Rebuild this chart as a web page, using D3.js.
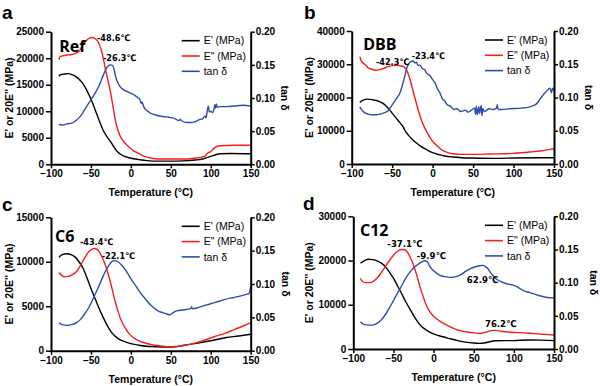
<!DOCTYPE html>
<html>
<head>
<meta charset="utf-8">
<script src="https://cdn.jsdelivr.net/npm/d3@7"></script>
<style>
  body { margin: 0; background: #fff; }
  svg { display: block; }
  .tick text { font-family: "Liberation Sans", Arial, sans-serif; font-weight: bold; font-size: 10px; fill: #000; }
  .axis path.domain { stroke: #000; stroke-width: 2px; }
  .axis .tick line { stroke: #000; stroke-width: 1.5px; }
</style>
</head>
<body>
<svg id="chart" width="600" height="386"></svg>
<script>
// ---- data (temperature °C, value) ----

// a : Ref
const refStorage = [[-90,16600],[-88,16900],[-84,17000],[-78,17100],[-72,16800],[-66,16200],[-60,15200],[-55,13900],[-50,12300],[-45,10400],[-40,8400],[-35,6500],[-30,5200],[-25,4200],[-21,3200],[-17,2400],[-12,1800],[-6,1400],[0,1150],[10,900],[20,700],[35,600],[50,600],[65,650],[80,800],[90,1000],[96,1300],[100,1500],[106,1800],[112,2000],[125,2050],[150,2000]];
const refLoss = [[-90,19700],[-89,20200],[-87,20400],[-80,20600],[-74,20700],[-68,21000],[-64,21500],[-60,22500],[-56,23300],[-52,23800],[-49,23900],[-45,23700],[-42,23300],[-38,22000],[-35,20300],[-32,18000],[-29,16000],[-26,14000],[-23,11500],[-20,8700],[-17,6800],[-13,5200],[-9,4300],[-4,3500],[1,2800],[8,2200],[17,1500],[28,1100],[40,1000],[55,1000],[70,1000],[82,1200],[90,1400],[94,1700],[96,2100],[100,2400],[104,3000],[108,3400],[112,3500],[130,3600],[150,3600]];
const refTan = [[-90,0.059],[-88,0.060],[-85,0.059],[-80,0.061],[-74,0.062],[-70,0.065],[-65,0.070],[-60,0.078],[-55,0.088],[-50,0.097],[-45,0.107],[-40,0.118],[-35,0.133],[-31,0.144],[-28,0.149],[-25,0.150],[-23,0.149],[-21,0.143],[-19,0.132],[-17,0.125],[-14,0.118],[-10,0.113],[-5,0.110],[0,0.107],[5,0.104],[9,0.100],[11,0.098],[13,0.092],[14,0.094],[16,0.087],[20,0.081],[25,0.077],[32,0.074],[40,0.072],[48,0.071],[55,0.069],[60,0.066],[62,0.068],[63,0.066],[70,0.063],[75,0.063],[80,0.064],[85,0.067],[90,0.069],[93,0.073],[94,0.070],[95,0.075],[96,0.084],[97,0.088],[98,0.079],[100,0.080],[102,0.078],[104,0.083],[105,0.090],[106,0.085],[107,0.091],[108,0.086],[112,0.087],[120,0.087],[130,0.088],[140,0.089],[150,0.088]];

// b : DBB
const dbbStorage = [[-90,18500],[-86,19200],[-80,19500],[-74,19300],[-67,18900],[-60,18000],[-55,16800],[-50,15300],[-45,13800],[-40,12300],[-36,11000],[-34,10000],[-30,8700],[-25,7400],[-20,6300],[-14,5200],[-8,4400],[0,3400],[8,2800],[15,2400],[25,2100],[36,1900],[50,1800],[77,1700],[100,1800],[150,1900]];
const dbbLoss = [[-90,32300],[-89,31500],[-87,30600],[-84,30000],[-80,29000],[-75,28500],[-70,28200],[-65,28400],[-60,28800],[-55,29300],[-50,29600],[-45,29700],[-40,29500],[-36,29300],[-33,28600],[-30,27000],[-28,25500],[-25,22800],[-22,20000],[-19,17300],[-16,14800],[-13,12600],[-9,10500],[-5,8700],[0,6800],[5,5600],[11,4300],[18,3500],[25,3100],[35,2900],[50,2900],[70,3000],[100,3200],[120,3600],[135,4000],[145,4400],[150,4600]];
const dbbTan = [[-90,0.086],[-88,0.082],[-85,0.078],[-80,0.075],[-75,0.074],[-70,0.074],[-65,0.075],[-60,0.077],[-55,0.080],[-50,0.089],[-45,0.098],[-40,0.108],[-37,0.120],[-34,0.134],[-32,0.144],[-30,0.150],[-27,0.154],[-24,0.155],[-22,0.152],[-20,0.153],[-18,0.148],[-16,0.149],[-13,0.144],[-10,0.142],[-7,0.136],[-4,0.134],[0,0.127],[3,0.122],[6,0.113],[9,0.107],[12,0.098],[15,0.095],[18,0.089],[22,0.087],[26,0.082],[30,0.083],[35,0.079],[40,0.081],[44,0.078],[48,0.081],[52,0.084],[53,0.075],[54,0.087],[55,0.074],[57,0.086],[58,0.076],[60,0.088],[61,0.073],[62,0.083],[64,0.079],[70,0.083],[75,0.082],[79,0.084],[80,0.089],[81,0.082],[85,0.082],[95,0.083],[110,0.084],[120,0.086],[128,0.090],[133,0.098],[138,0.106],[142,0.111],[145,0.114],[147,0.107],[148,0.114],[150,0.110]];

// c : C6
const c6Storage = [[-90,10500],[-86,10800],[-80,10900],[-75,10800],[-70,10550],[-65,10000],[-60,9300],[-55,8200],[-50,7000],[-45,5900],[-40,4800],[-35,3800],[-30,2900],[-25,2150],[-20,1650],[-15,1300],[-7,1000],[0,800],[10,620],[20,500],[30,450],[45,400],[55,430],[67,620],[80,800],[93,1000],[105,1200],[118,1450],[135,1650],[150,1850]];
const c6Loss = [[-90,8800],[-87,8500],[-83,8300],[-78,8350],[-73,8550],[-68,8900],[-63,9600],[-58,10400],[-53,11100],[-49,11400],[-45,11500],[-41,11300],[-37,10700],[-33,9900],[-29,8800],[-25,7500],[-21,6000],[-17,4700],[-13,3600],[-8,2700],[-3,2000],[2,1550],[8,1200],[15,950],[25,700],[35,550],[49,450],[60,500],[70,650],[80,850],[93,1200],[105,1600],[118,1950],[130,2400],[140,2750],[150,3150]];
const c6Tan = [[-90,0.042],[-86,0.039],[-80,0.038],[-74,0.039],[-68,0.042],[-63,0.047],[-58,0.055],[-53,0.064],[-49,0.0735],[-45,0.084],[-40,0.097],[-35,0.111],[-31,0.121],[-27,0.129],[-23,0.1345],[-20,0.135],[-16,0.133],[-12,0.129],[-8,0.123],[-4,0.116],[0,0.108],[5,0.099],[10,0.090],[15,0.082],[20,0.075],[25,0.068],[30,0.063],[35,0.059],[40,0.057],[45,0.055],[49,0.054],[53,0.057],[58,0.060],[65,0.061],[75,0.063],[76,0.066],[77,0.063],[85,0.065],[93,0.068],[105,0.072],[118,0.077],[130,0.080],[143,0.084],[148,0.086],[149,0.090],[150,0.096]];

// d : C12
const c12Storage = [[-91,19400],[-86,20000],[-81,20300],[-76,20200],[-71,20000],[-65,19400],[-60,18600],[-55,17400],[-50,16000],[-45,14300],[-40,12600],[-35,10800],[-30,9200],[-25,7600],[-20,6200],[-15,5100],[-10,4400],[-5,3800],[0,3400],[7,3000],[14,2650],[22,2250],[30,1900],[40,1550],[50,1350],[57,1280],[64,1400],[70,1650],[77,1850],[90,1900],[100,1900],[118,2050],[135,2000],[150,1900]];
const c12Loss = [[-91,16000],[-89,15300],[-85,15000],[-80,15000],[-75,15300],[-70,16100],[-65,17300],[-60,18700],[-55,20000],[-50,21200],[-45,22100],[-40,22500],[-37,22500],[-33,22000],[-29,20700],[-25,19000],[-21,16700],[-17,14100],[-13,11900],[-9,9900],[-5,8500],[0,7400],[7,6400],[14,5600],[22,4900],[30,4300],[40,3900],[50,3650],[58,3500],[65,3800],[72,4150],[77,4200],[84,4000],[92,3850],[105,3700],[120,3550],[135,3350],[150,3150]];
const c12Tan = [[-91,0.041],[-87,0.037],[-82,0.036],[-76,0.036],[-70,0.039],[-65,0.044],[-60,0.052],[-55,0.062],[-50,0.073],[-45,0.084],[-40,0.095],[-35,0.106],[-30,0.115],[-25,0.122],[-20,0.127],[-15,0.131],[-11,0.133],[-8,0.132],[-5,0.125],[-1,0.119],[3,0.115],[8,0.111],[14,0.109],[22,0.108],[28,0.109],[34,0.112],[40,0.117],[46,0.121],[52,0.124],[57,0.1255],[61,0.126],[64,0.125],[67,0.122],[71,0.115],[75,0.109],[80,0.104],[85,0.101],[92,0.098],[100,0.096],[105,0.093],[112,0.088],[120,0.085],[130,0.081],[140,0.078],[150,0.077]];

// ticks and labels
const tempTicks = [-100, -50, 0, 50, 100, 150];
const tanTicks = [0, 0.05, 0.10, 0.15, 0.20];
const legendLabels = ["E' (MPa)", "E\" (MPa)", "tan \u03b4"];

const refNotes = [["-48.6\u2103", -42.4, 23250], ["-26.3\u2103", -34.9, 19570]];
const dbbNotes = [["-42.3\u2103", -70, 29770], ["-23.4\u2103", -25.9, 31580]];
const c6Notes  = [["-43.4\u2103", -63.7, 11940], ["-22.1\u2103", -36.5, 10310]];
const c12Notes = [["-37.1\u2103", -57.6, 23060], ["-9.9\u2103", -21, 20350], ["62.9\u2103", 41.3, 14810], ["76.2\u2103", 64, 4970]];

// ---- layout ----
const panels = [
  { letter: "a", name: "Ref", left: 51,    right: 250.7, top: 31.7,  bottom: 164.3, yMax: 25000, yTicks: [0,5000,10000,15000,20000,25000],
    series: [refStorage, refLoss, refTan], notes: refNotes, noteSize: 9, nameAt: [-89.6, 21100], letterXY: [2, 19], yTitleX: 9, tanTitleX: 285 },
  { letter: "b", name: "DBB", left: 351.7, right: 554,   top: 31,    bottom: 164,   yMax: 40000, yTicks: [0,10000,20000,30000,40000],
    series: [dbbStorage, dbbLoss, dbbTan], notes: dbbNotes, noteSize: 9, nameAt: [-85.7, 34290], letterXY: [304, 18.5], yTitleX: 309.5, tanTitleX: 589 },
  { letter: "c", name: "C6",  left: 51,    right: 250.7, top: 217.3, bottom: 350.7, yMax: 15000, yTicks: [0,5000,10000,15000],
    series: [c6Storage, c6Loss, c6Tan], notes: c6Notes, noteSize: 9, nameAt: [-95, 12220], letterXY: [2, 211], yTitleX: 9, tanTitleX: 286 },
  { letter: "d", name: "C12", left: 353.3, right: 554,   top: 216.3, bottom: 349,   yMax: 30000, yTicks: [0,10000,20000,30000],
    series: [c12Storage, c12Loss, c12Tan], notes: c12Notes, noteSize: 9.5, nameAt: [-91.7, 25610], letterXY: [303, 210], yTitleX: 309.5, tanTitleX: 594 }
];

const colors = ["#000000", "#f51d1d", "#2c4ea6"];
const sansBold = "'Liberation Sans', Arial, sans-serif";

const svg = d3.select("#chart");
svg.append("rect").attr("width", 600).attr("height", 386).attr("fill", "#fff");

panels.forEach(p => {
  const x = d3.scaleLinear().domain([-100, 150]).range([p.left, p.right]);
  const y = d3.scaleLinear().domain([0, p.yMax]).range([p.bottom, p.top]);
  const yTan = d3.scaleLinear().domain([0, 0.2]).range([p.bottom, p.top]);
  const g = svg.append("g");

  // curves
  const lineE = d3.line().x(d => x(d[0])).y(d => y(d[1])).curve(d3.curveMonotoneX);
  const lineT = d3.line().x(d => x(d[0])).y(d => yTan(d[1])).curve(d3.curveMonotoneX);
  p.series.forEach((s, i) => {
    g.append("path")
      .attr("d", i === 2 ? lineT(s) : lineE(s))
      .attr("fill", "none")
      .attr("stroke", colors[i])
      .attr("stroke-width", 1.4)
      .attr("stroke-linejoin", "round");
  });

  // axes
  g.append("g").attr("class", "axis")
    .attr("transform", `translate(0,${p.bottom})`)
    .call(d3.axisBottom(x).tickValues(tempTicks).tickSize(4).tickPadding(2).tickSizeOuter(0).tickFormat(d3.format("d")));
  g.append("g").attr("class", "axis")
    .attr("transform", `translate(${p.left},0)`)
    .call(d3.axisLeft(y).tickValues(p.yTicks).tickSize(5).tickPadding(2).tickSizeOuter(0).tickFormat(d3.format("d")));
  g.append("g").attr("class", "axis")
    .attr("transform", `translate(${p.right},0)`)
    .call(d3.axisRight(yTan).tickValues(tanTicks).tickSize(4).tickPadding(1).tickSizeOuter(0).tickFormat(d3.format(".2f")));

  // axis titles
  g.append("text")
    .attr("x", (p.left + p.right) / 2).attr("y", p.bottom + 32)
    .attr("text-anchor", "middle")
    .style("font", `bold 10.5px ${sansBold}`)
    .text("Temperature (\u00b0C)");
  g.append("text")
    .attr("transform", `translate(${p.yTitleX},${(p.top + p.bottom) / 2}) rotate(-90)`)
    .attr("text-anchor", "middle").attr("dy", "0.35em")
    .style("font", `bold 10.5px ${sansBold}`)
    .text("E' or 20E'' (MPa)");
  g.append("text")
    .attr("transform", `translate(${p.tanTitleX},${(p.top + p.bottom) / 2}) rotate(90)`)
    .attr("text-anchor", "middle").attr("dy", "0.35em")
    .style("font", `bold 10.5px ${sansBold}`)
    .text("tan \u03b4");

  // panel letter & sample name
  g.append("text")
    .attr("x", p.letterXY[0]).attr("y", p.letterXY[1])
    .style("font", `bold 19px ${sansBold}`)
    .text(p.letter);
  g.append("text")
    .attr("x", x(p.nameAt[0])).attr("y", y(p.nameAt[1]))
    .style("font", "bold 16px 'Open Sans', 'Noto Sans', sans-serif")
    .text(p.name);

  // peak annotations
  p.notes.forEach(n => {
    g.append("text")
      .attr("x", x(n[1])).attr("y", y(n[2]))
      .style("font", `${p.noteSize}px 'DejaVu Sans Condensed', 'Liberation Sans', sans-serif`)
      .style("font-weight", "bold")
      .text(n[0]);
  });

  // legend
  legendLabels.forEach((lab, i) => {
    const ly = p.top + 9 + i * 15.3;
    g.append("line")
      .attr("x1", p.right - 69).attr("x2", p.right - 51)
      .attr("y1", ly).attr("y2", ly)
      .attr("stroke", colors[i]).attr("stroke-width", 1.6);
    g.append("text")
      .attr("x", p.right - 47).attr("y", ly).attr("dy", "0.35em")
      .style("font", "10.5px 'Liberation Sans', Arial, sans-serif")
      .text(lab);
  });
});
</script>
</body>
</html>
